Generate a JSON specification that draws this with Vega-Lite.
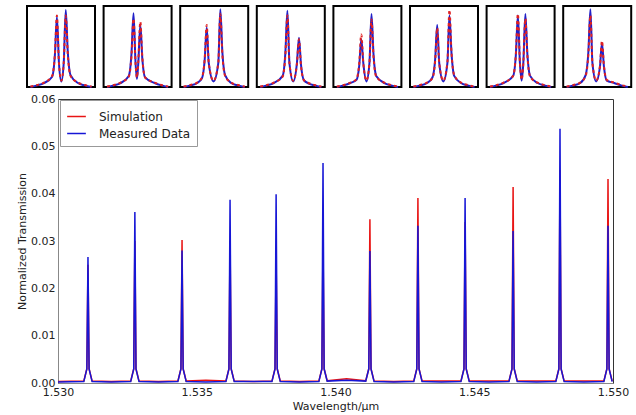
{
"$schema": "https://vega.github.io/schema/vega-lite/v6.json",
"padding": {"left": 15, "top": 4, "right": 5, "bottom": 2},
"config": {"font": "DejaVu Sans", "view": {"stroke": "black", "strokeWidth": 2}},
"spacing": 0,
"datasets": {
"ins": [
{"p":1,"s":"b","x":0.05,"y":0},{"p":1,"s":"b","x":0.15,"y":0.02},{"p":1,"s":"b","x":0.25,"y":0.05},{"p":1,"s":"b","x":0.37,"y":0.13},{"p":1,"s":"b","x":0.41,"y":0.40},{"p":1,"s":"b","x":0.44,"y":0.88},{"p":1,"s":"b","x":0.47,"y":0.3},{"p":1,"s":"b","x":0.505,"y":0.07},{"p":1,"s":"b","x":0.54,"y":0.3},{"p":1,"s":"b","x":0.57,"y":0.97},{"p":1,"s":"b","x":0.60,"y":0.44},{"p":1,"s":"b","x":0.64,"y":0.15},{"p":1,"s":"b","x":0.75,"y":0.05},{"p":1,"s":"b","x":0.85,"y":0.02},{"p":1,"s":"b","x":0.95,"y":0},
{"p":1,"s":"r","x":0.05,"y":0.005},{"p":1,"s":"r","x":0.15,"y":0.025},{"p":1,"s":"r","x":0.25,"y":0.055},{"p":1,"s":"r","x":0.37,"y":0.14},{"p":1,"s":"r","x":0.41,"y":0.41},{"p":1,"s":"r","x":0.44,"y":0.90},{"p":1,"s":"r","x":0.47,"y":0.3},{"p":1,"s":"r","x":0.505,"y":0.08},{"p":1,"s":"r","x":0.54,"y":0.3},{"p":1,"s":"r","x":0.57,"y":0.90},{"p":1,"s":"r","x":0.60,"y":0.41},{"p":1,"s":"r","x":0.64,"y":0.14},{"p":1,"s":"r","x":0.75,"y":0.055},{"p":1,"s":"r","x":0.85,"y":0.025},{"p":1,"s":"r","x":0.95,"y":0.005},
{"p":2,"s":"b","x":0.05,"y":0},{"p":2,"s":"b","x":0.15,"y":0.02},{"p":2,"s":"b","x":0.25,"y":0.05},{"p":2,"s":"b","x":0.37,"y":0.14},{"p":2,"s":"b","x":0.41,"y":0.42},{"p":2,"s":"b","x":0.44,"y":0.93},{"p":2,"s":"b","x":0.47,"y":0.3},{"p":2,"s":"b","x":0.49,"y":0.1},{"p":2,"s":"b","x":0.51,"y":0.3},{"p":2,"s":"b","x":0.54,"y":0.78},{"p":2,"s":"b","x":0.57,"y":0.35},{"p":2,"s":"b","x":0.61,"y":0.12},{"p":2,"s":"b","x":0.75,"y":0.05},{"p":2,"s":"b","x":0.85,"y":0.02},{"p":2,"s":"b","x":0.95,"y":0},
{"p":2,"s":"r","x":0.05,"y":0.005},{"p":2,"s":"r","x":0.15,"y":0.025},{"p":2,"s":"r","x":0.25,"y":0.055},{"p":2,"s":"r","x":0.37,"y":0.13},{"p":2,"s":"r","x":0.41,"y":0.39},{"p":2,"s":"r","x":0.44,"y":0.86},{"p":2,"s":"r","x":0.47,"y":0.3},{"p":2,"s":"r","x":0.49,"y":0.12},{"p":2,"s":"r","x":0.51,"y":0.32},{"p":2,"s":"r","x":0.54,"y":0.82},{"p":2,"s":"r","x":0.57,"y":0.37},{"p":2,"s":"r","x":0.61,"y":0.12},{"p":2,"s":"r","x":0.75,"y":0.055},{"p":2,"s":"r","x":0.85,"y":0.025},{"p":2,"s":"r","x":0.95,"y":0.005},
{"p":3,"s":"b","x":0.05,"y":0},{"p":3,"s":"b","x":0.15,"y":0.02},{"p":3,"s":"b","x":0.25,"y":0.05},{"p":3,"s":"b","x":0.32,"y":0.11},{"p":3,"s":"b","x":0.36,"y":0.34},{"p":3,"s":"b","x":0.39,"y":0.75},{"p":3,"s":"b","x":0.42,"y":0.3},{"p":3,"s":"b","x":0.49,"y":0.07},{"p":3,"s":"b","x":0.56,"y":0.3},{"p":3,"s":"b","x":0.59,"y":0.98},{"p":3,"s":"b","x":0.62,"y":0.44},{"p":3,"s":"b","x":0.66,"y":0.15},{"p":3,"s":"b","x":0.75,"y":0.05},{"p":3,"s":"b","x":0.85,"y":0.02},{"p":3,"s":"b","x":0.95,"y":0},
{"p":3,"s":"r","x":0.05,"y":0.005},{"p":3,"s":"r","x":0.15,"y":0.025},{"p":3,"s":"r","x":0.25,"y":0.055},{"p":3,"s":"r","x":0.32,"y":0.12},{"p":3,"s":"r","x":0.36,"y":0.35},{"p":3,"s":"r","x":0.39,"y":0.78},{"p":3,"s":"r","x":0.42,"y":0.3},{"p":3,"s":"r","x":0.49,"y":0.08},{"p":3,"s":"r","x":0.56,"y":0.3},{"p":3,"s":"r","x":0.59,"y":0.92},{"p":3,"s":"r","x":0.62,"y":0.41},{"p":3,"s":"r","x":0.66,"y":0.14},{"p":3,"s":"r","x":0.75,"y":0.055},{"p":3,"s":"r","x":0.85,"y":0.025},{"p":3,"s":"r","x":0.95,"y":0.005},
{"p":4,"s":"b","x":0.05,"y":0},{"p":4,"s":"b","x":0.15,"y":0.02},{"p":4,"s":"b","x":0.25,"y":0.05},{"p":4,"s":"b","x":0.38,"y":0.14},{"p":4,"s":"b","x":0.42,"y":0.43},{"p":4,"s":"b","x":0.45,"y":0.96},{"p":4,"s":"b","x":0.48,"y":0.3},{"p":4,"s":"b","x":0.535,"y":0.07},{"p":4,"s":"b","x":0.59,"y":0.3},{"p":4,"s":"b","x":0.62,"y":0.62},{"p":4,"s":"b","x":0.65,"y":0.28},{"p":4,"s":"b","x":0.69,"y":0.09},{"p":4,"s":"b","x":0.75,"y":0.05},{"p":4,"s":"b","x":0.85,"y":0.02},{"p":4,"s":"b","x":0.95,"y":0},
{"p":4,"s":"r","x":0.05,"y":0.005},{"p":4,"s":"r","x":0.15,"y":0.025},{"p":4,"s":"r","x":0.25,"y":0.055},{"p":4,"s":"r","x":0.38,"y":0.13},{"p":4,"s":"r","x":0.42,"y":0.40},{"p":4,"s":"r","x":0.45,"y":0.90},{"p":4,"s":"r","x":0.48,"y":0.3},{"p":4,"s":"r","x":0.535,"y":0.08},{"p":4,"s":"r","x":0.59,"y":0.29},{"p":4,"s":"r","x":0.62,"y":0.60},{"p":4,"s":"r","x":0.65,"y":0.27},{"p":4,"s":"r","x":0.69,"y":0.09},{"p":4,"s":"r","x":0.75,"y":0.055},{"p":4,"s":"r","x":0.85,"y":0.025},{"p":4,"s":"r","x":0.95,"y":0.005},
{"p":5,"s":"b","x":0.05,"y":0},{"p":5,"s":"b","x":0.15,"y":0.02},{"p":5,"s":"b","x":0.25,"y":0.05},{"p":5,"s":"b","x":0.34,"y":0.09},{"p":5,"s":"b","x":0.38,"y":0.27},{"p":5,"s":"b","x":0.41,"y":0.60},{"p":5,"s":"b","x":0.44,"y":0.3},{"p":5,"s":"b","x":0.485,"y":0.07},{"p":5,"s":"b","x":0.53,"y":0.3},{"p":5,"s":"b","x":0.56,"y":0.92},{"p":5,"s":"b","x":0.59,"y":0.41},{"p":5,"s":"b","x":0.63,"y":0.14},{"p":5,"s":"b","x":0.75,"y":0.05},{"p":5,"s":"b","x":0.85,"y":0.02},{"p":5,"s":"b","x":0.95,"y":0},
{"p":5,"s":"r","x":0.05,"y":0.005},{"p":5,"s":"r","x":0.15,"y":0.025},{"p":5,"s":"r","x":0.25,"y":0.055},{"p":5,"s":"r","x":0.34,"y":0.10},{"p":5,"s":"r","x":0.38,"y":0.30},{"p":5,"s":"r","x":0.41,"y":0.66},{"p":5,"s":"r","x":0.44,"y":0.3},{"p":5,"s":"r","x":0.485,"y":0.08},{"p":5,"s":"r","x":0.53,"y":0.3},{"p":5,"s":"r","x":0.56,"y":0.85},{"p":5,"s":"r","x":0.59,"y":0.38},{"p":5,"s":"r","x":0.63,"y":0.13},{"p":5,"s":"r","x":0.75,"y":0.055},{"p":5,"s":"r","x":0.85,"y":0.025},{"p":5,"s":"r","x":0.95,"y":0.005},
{"p":6,"s":"b","x":0.05,"y":0},{"p":6,"s":"b","x":0.15,"y":0.02},{"p":6,"s":"b","x":0.25,"y":0.05},{"p":6,"s":"b","x":0.33,"y":0.12},{"p":6,"s":"b","x":0.37,"y":0.35},{"p":6,"s":"b","x":0.40,"y":0.78},{"p":6,"s":"b","x":0.43,"y":0.3},{"p":6,"s":"b","x":0.49,"y":0.07},{"p":6,"s":"b","x":0.55,"y":0.3},{"p":6,"s":"b","x":0.58,"y":0.90},{"p":6,"s":"b","x":0.61,"y":0.43},{"p":6,"s":"b","x":0.65,"y":0.14},{"p":6,"s":"b","x":0.75,"y":0.05},{"p":6,"s":"b","x":0.85,"y":0.02},{"p":6,"s":"b","x":0.95,"y":0},
{"p":6,"s":"r","x":0.05,"y":0.005},{"p":6,"s":"r","x":0.15,"y":0.025},{"p":6,"s":"r","x":0.25,"y":0.055},{"p":6,"s":"r","x":0.33,"y":0.11},{"p":6,"s":"r","x":0.37,"y":0.33},{"p":6,"s":"r","x":0.40,"y":0.74},{"p":6,"s":"r","x":0.43,"y":0.3},{"p":6,"s":"r","x":0.49,"y":0.08},{"p":6,"s":"r","x":0.55,"y":0.31},{"p":6,"s":"r","x":0.58,"y":0.97},{"p":6,"s":"r","x":0.61,"y":0.44},{"p":6,"s":"r","x":0.65,"y":0.15},{"p":6,"s":"r","x":0.75,"y":0.055},{"p":6,"s":"r","x":0.85,"y":0.025},{"p":6,"s":"r","x":0.95,"y":0.005},
{"p":7,"s":"b","x":0.05,"y":0},{"p":7,"s":"b","x":0.15,"y":0.02},{"p":7,"s":"b","x":0.25,"y":0.05},{"p":7,"s":"b","x":0.39,"y":0.14},{"p":7,"s":"b","x":0.43,"y":0.40},{"p":7,"s":"b","x":0.46,"y":0.90},{"p":7,"s":"b","x":0.49,"y":0.3},{"p":7,"s":"b","x":0.515,"y":0.08},{"p":7,"s":"b","x":0.54,"y":0.3},{"p":7,"s":"b","x":0.57,"y":0.92},{"p":7,"s":"b","x":0.60,"y":0.41},{"p":7,"s":"b","x":0.64,"y":0.14},{"p":7,"s":"b","x":0.75,"y":0.05},{"p":7,"s":"b","x":0.85,"y":0.02},{"p":7,"s":"b","x":0.95,"y":0},
{"p":7,"s":"r","x":0.05,"y":0.005},{"p":7,"s":"r","x":0.15,"y":0.025},{"p":7,"s":"r","x":0.25,"y":0.055},{"p":7,"s":"r","x":0.39,"y":0.14},{"p":7,"s":"r","x":0.43,"y":0.41},{"p":7,"s":"r","x":0.46,"y":0.92},{"p":7,"s":"r","x":0.49,"y":0.31},{"p":7,"s":"r","x":0.515,"y":0.09},{"p":7,"s":"r","x":0.54,"y":0.3},{"p":7,"s":"r","x":0.57,"y":0.86},{"p":7,"s":"r","x":0.60,"y":0.39},{"p":7,"s":"r","x":0.64,"y":0.13},{"p":7,"s":"r","x":0.75,"y":0.055},{"p":7,"s":"r","x":0.85,"y":0.025},{"p":7,"s":"r","x":0.95,"y":0.005},
{"p":8,"s":"b","x":0.05,"y":0},{"p":8,"s":"b","x":0.15,"y":0.02},{"p":8,"s":"b","x":0.25,"y":0.05},{"p":8,"s":"b","x":0.33,"y":0.15},{"p":8,"s":"b","x":0.37,"y":0.44},{"p":8,"s":"b","x":0.40,"y":0.98},{"p":8,"s":"b","x":0.43,"y":0.3},{"p":8,"s":"b","x":0.485,"y":0.07},{"p":8,"s":"b","x":0.54,"y":0.25},{"p":8,"s":"b","x":0.57,"y":0.55},{"p":8,"s":"b","x":0.60,"y":0.25},{"p":8,"s":"b","x":0.64,"y":0.08},{"p":8,"s":"b","x":0.75,"y":0.05},{"p":8,"s":"b","x":0.85,"y":0.02},{"p":8,"s":"b","x":0.95,"y":0},
{"p":8,"s":"r","x":0.05,"y":0.005},{"p":8,"s":"r","x":0.15,"y":0.025},{"p":8,"s":"r","x":0.25,"y":0.055},{"p":8,"s":"r","x":0.33,"y":0.14},{"p":8,"s":"r","x":0.37,"y":0.41},{"p":8,"s":"r","x":0.40,"y":0.90},{"p":8,"s":"r","x":0.43,"y":0.3},{"p":8,"s":"r","x":0.485,"y":0.08},{"p":8,"s":"r","x":0.54,"y":0.26},{"p":8,"s":"r","x":0.57,"y":0.58},{"p":8,"s":"r","x":0.60,"y":0.26},{"p":8,"s":"r","x":0.64,"y":0.09},{"p":8,"s":"r","x":0.75,"y":0.055},{"p":8,"s":"r","x":0.85,"y":0.025},{"p":8,"s":"r","x":0.95,"y":0.005}
],
"main": [
{"s":"Simulation","x":1.5300,"y":0.0003},
{"s":"Simulation","x":1.53093,"y":0.0004},{"s":"Simulation","x":1.53104,"y":0.003},{"s":"Simulation","x":1.53108,"y":0.0250},{"s":"Simulation","x":1.53112,"y":0.003},{"s":"Simulation","x":1.53123,"y":0.0004},
{"s":"Simulation","x":1.53192,"y":0.0003},
{"s":"Simulation","x":1.53262,"y":0.0004},{"s":"Simulation","x":1.53273,"y":0.003},{"s":"Simulation","x":1.53277,"y":0.0300},{"s":"Simulation","x":1.53281,"y":0.003},{"s":"Simulation","x":1.53292,"y":0.0004},
{"s":"Simulation","x":1.53362,"y":0.0003},
{"s":"Simulation","x":1.53432,"y":0.0004},{"s":"Simulation","x":1.53443,"y":0.003},{"s":"Simulation","x":1.53447,"y":0.0302},{"s":"Simulation","x":1.53451,"y":0.003},{"s":"Simulation","x":1.53462,"y":0.0004},
{"s":"Simulation","x":1.53533,"y":0.0006},
{"s":"Simulation","x":1.53605,"y":0.0004},{"s":"Simulation","x":1.53616,"y":0.003},{"s":"Simulation","x":1.53620,"y":0.0300},{"s":"Simulation","x":1.53624,"y":0.003},{"s":"Simulation","x":1.53635,"y":0.0004},
{"s":"Simulation","x":1.53703,"y":0.0003},
{"s":"Simulation","x":1.53771,"y":0.0004},{"s":"Simulation","x":1.53782,"y":0.003},{"s":"Simulation","x":1.53786,"y":0.0262},{"s":"Simulation","x":1.53790,"y":0.003},{"s":"Simulation","x":1.53801,"y":0.0004},
{"s":"Simulation","x":1.53870,"y":0.0003},
{"s":"Simulation","x":1.53940,"y":0.0004},{"s":"Simulation","x":1.53951,"y":0.003},{"s":"Simulation","x":1.53955,"y":0.0300},{"s":"Simulation","x":1.53959,"y":0.003},{"s":"Simulation","x":1.53970,"y":0.0005},
{"s":"Simulation","x":1.54040,"y":0.0009},
{"s":"Simulation","x":1.54109,"y":0.0005},{"s":"Simulation","x":1.54120,"y":0.003},{"s":"Simulation","x":1.54124,"y":0.0346},{"s":"Simulation","x":1.54128,"y":0.003},{"s":"Simulation","x":1.54139,"y":0.0004},
{"s":"Simulation","x":1.54210,"y":0.0003},
{"s":"Simulation","x":1.54282,"y":0.0004},{"s":"Simulation","x":1.54293,"y":0.003},{"s":"Simulation","x":1.54297,"y":0.0391},{"s":"Simulation","x":1.54301,"y":0.003},{"s":"Simulation","x":1.54312,"y":0.0004},
{"s":"Simulation","x":1.54382,"y":0.0004},
{"s":"Simulation","x":1.54452,"y":0.0004},{"s":"Simulation","x":1.54463,"y":0.003},{"s":"Simulation","x":1.54467,"y":0.0340},{"s":"Simulation","x":1.54471,"y":0.003},{"s":"Simulation","x":1.54482,"y":0.0004},
{"s":"Simulation","x":1.54553,"y":0.0004},
{"s":"Simulation","x":1.54625,"y":0.0004},{"s":"Simulation","x":1.54636,"y":0.003},{"s":"Simulation","x":1.54640,"y":0.0414},{"s":"Simulation","x":1.54644,"y":0.003},{"s":"Simulation","x":1.54655,"y":0.0004},
{"s":"Simulation","x":1.54725,"y":0.0004},
{"s":"Simulation","x":1.54794,"y":0.0004},{"s":"Simulation","x":1.54805,"y":0.003},{"s":"Simulation","x":1.54809,"y":0.0450},{"s":"Simulation","x":1.54813,"y":0.003},{"s":"Simulation","x":1.54824,"y":0.0004},
{"s":"Simulation","x":1.54895,"y":0.0004},
{"s":"Simulation","x":1.54967,"y":0.0004},{"s":"Simulation","x":1.54978,"y":0.003},{"s":"Simulation","x":1.54982,"y":0.0431},{"s":"Simulation","x":1.54986,"y":0.003},{"s":"Simulation","x":1.54997,"y":0.0004},
{"s":"Measured Data","x":1.5300,"y":0.0002},
{"s":"Measured Data","x":1.53093,"y":0.0003},{"s":"Measured Data","x":1.53104,"y":0.003},{"s":"Measured Data","x":1.53108,"y":0.0266},{"s":"Measured Data","x":1.53112,"y":0.003},{"s":"Measured Data","x":1.53123,"y":0.0003},
{"s":"Measured Data","x":1.53192,"y":0.0002},
{"s":"Measured Data","x":1.53262,"y":0.0003},{"s":"Measured Data","x":1.53273,"y":0.003},{"s":"Measured Data","x":1.53277,"y":0.0361},{"s":"Measured Data","x":1.53281,"y":0.003},{"s":"Measured Data","x":1.53292,"y":0.0003},
{"s":"Measured Data","x":1.53362,"y":0.0002},
{"s":"Measured Data","x":1.53432,"y":0.0003},{"s":"Measured Data","x":1.53443,"y":0.003},{"s":"Measured Data","x":1.53447,"y":0.0280},{"s":"Measured Data","x":1.53451,"y":0.003},{"s":"Measured Data","x":1.53462,"y":0.0003},
{"s":"Measured Data","x":1.53533,"y":0.0002},
{"s":"Measured Data","x":1.53605,"y":0.0003},{"s":"Measured Data","x":1.53616,"y":0.003},{"s":"Measured Data","x":1.53620,"y":0.0387},{"s":"Measured Data","x":1.53624,"y":0.003},{"s":"Measured Data","x":1.53635,"y":0.0003},
{"s":"Measured Data","x":1.53703,"y":0.0003},
{"s":"Measured Data","x":1.53771,"y":0.0003},{"s":"Measured Data","x":1.53782,"y":0.003},{"s":"Measured Data","x":1.53786,"y":0.0399},{"s":"Measured Data","x":1.53790,"y":0.003},{"s":"Measured Data","x":1.53801,"y":0.0003},
{"s":"Measured Data","x":1.53870,"y":0.0002},
{"s":"Measured Data","x":1.53940,"y":0.0003},{"s":"Measured Data","x":1.53951,"y":0.003},{"s":"Measured Data","x":1.53955,"y":0.0465},{"s":"Measured Data","x":1.53959,"y":0.003},{"s":"Measured Data","x":1.53970,"y":0.0004},
{"s":"Measured Data","x":1.54040,"y":0.0006},
{"s":"Measured Data","x":1.54109,"y":0.0004},{"s":"Measured Data","x":1.54120,"y":0.003},{"s":"Measured Data","x":1.54124,"y":0.0279},{"s":"Measured Data","x":1.54128,"y":0.003},{"s":"Measured Data","x":1.54139,"y":0.0003},
{"s":"Measured Data","x":1.54210,"y":0.0002},
{"s":"Measured Data","x":1.54282,"y":0.0003},{"s":"Measured Data","x":1.54293,"y":0.003},{"s":"Measured Data","x":1.54297,"y":0.0332},{"s":"Measured Data","x":1.54301,"y":0.003},{"s":"Measured Data","x":1.54312,"y":0.0003},
{"s":"Measured Data","x":1.54382,"y":0.0002},
{"s":"Measured Data","x":1.54452,"y":0.0003},{"s":"Measured Data","x":1.54463,"y":0.003},{"s":"Measured Data","x":1.54467,"y":0.0391},{"s":"Measured Data","x":1.54471,"y":0.003},{"s":"Measured Data","x":1.54482,"y":0.0003},
{"s":"Measured Data","x":1.54553,"y":0.0002},
{"s":"Measured Data","x":1.54625,"y":0.0003},{"s":"Measured Data","x":1.54636,"y":0.003},{"s":"Measured Data","x":1.54640,"y":0.0321},{"s":"Measured Data","x":1.54644,"y":0.003},{"s":"Measured Data","x":1.54655,"y":0.0003},
{"s":"Measured Data","x":1.54725,"y":0.0002},
{"s":"Measured Data","x":1.54794,"y":0.0003},{"s":"Measured Data","x":1.54805,"y":0.003},{"s":"Measured Data","x":1.54809,"y":0.0537},{"s":"Measured Data","x":1.54813,"y":0.003},{"s":"Measured Data","x":1.54824,"y":0.0003},
{"s":"Measured Data","x":1.54895,"y":0.0002},
{"s":"Measured Data","x":1.54967,"y":0.0003},{"s":"Measured Data","x":1.54978,"y":0.003},{"s":"Measured Data","x":1.54982,"y":0.0332},{"s":"Measured Data","x":1.54986,"y":0.003},{"s":"Measured Data","x":1.54997,"y":0.0003}
]
},
"vconcat": [
{
"spacing": 7,
"hconcat": [
{"width": 3, "height": 81, "view": {"stroke": null}, "data": {"values": []}, "mark": "text", "encoding": {}},
{
"data": {"name": "ins"},
"spacing": 4.6,
"facet": {"column": {"field": "p", "type": "ordinal", "header": null}},
"spec": {
"width": 68, "height": 81,
"encoding": {
"x": {"field": "x", "type": "quantitative", "scale": {"domain": [0, 1], "nice": false}, "axis": null},
"y": {"field": "y", "type": "quantitative", "scale": {"domain": [0, 1.02], "nice": false}, "axis": null}
},
"layer": [
{"transform": [{"filter": "datum.s === 'b'"}], "mark": {"type": "line", "interpolate": "monotone", "color": "#2020c8", "strokeWidth": 2}},
{"transform": [{"filter": "datum.s === 'r'"}], "mark": {"type": "line", "interpolate": "monotone", "color": "#e02020", "strokeWidth": 2, "strokeDash": [3, 3]}}
]
}
}
]
},
{
"spacing": 0,
"hconcat": [
{"width": 1, "height": 284, "view": {"stroke": null}, "data": {"values": []}, "mark": "text", "encoding": {}},
{
"width": 555, "height": 284,
"data": {"name": "main"},
"view": {"stroke": "#333", "strokeWidth": 1},
"encoding": {
"x": {"field": "x", "type": "quantitative", "title": "Wavelength/μm",
"scale": {"domain": [1.53, 1.55], "nice": false, "zero": false},
"axis": {"values": [1.53, 1.535, 1.54, 1.545, 1.55], "format": ".3f", "ticks": false, "labelPadding": 3, "labelFlush": false, "labelFontSize": 11, "labelColor": "#222", "titleFontSize": 11, "titleFontWeight": "normal", "titleColor": "#222", "titlePadding": 3, "grid": false, "domainColor": "#888"}},
"y": {"field": "y", "type": "quantitative", "title": "Normalized Transmission",
"scale": {"domain": [0, 0.06], "nice": false},
"axis": {"values": [0, 0.01, 0.02, 0.03, 0.04, 0.05, 0.06], "format": ".2f", "ticks": false, "labelPadding": 3, "labelFontSize": 11, "labelColor": "#222", "titleFontSize": 11, "titleFontWeight": "normal", "titleColor": "#222", "titlePadding": 3, "grid": false, "domainColor": "#888"}},
"color": {"field": "s", "type": "nominal", "scale": {"domain": ["Simulation", "Measured Data"], "range": ["#e81414", "#1616d6"]},
"legend": {"title": null, "orient": "none", "legendX": 45, "legendY": 94, "direction": "vertical", "symbolType": "stroke", "symbolSize": 350, "symbolStrokeWidth": 1.5, "labelFontSize": 12, "labelColor": "#222", "labelOffset": 12, "padding": 6, "rowPadding": 0, "strokeColor": "#999", "fillColor": "white"}}
},
"layer": [
{"transform": [{"filter": "datum.s === 'Simulation'"}], "mark": {"type": "line", "strokeWidth": 1.5}},
{"transform": [{"filter": "datum.s === 'Measured Data'"}], "mark": {"type": "line", "strokeWidth": 1.5}}
]
}
]
}
]
}
